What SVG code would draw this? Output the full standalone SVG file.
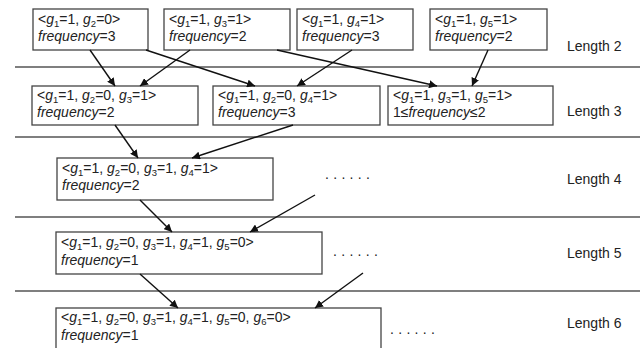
<svg xmlns="http://www.w3.org/2000/svg" width="640" height="348" viewBox="0 0 640 348">
<defs>
<marker id="ah" viewBox="0 0 10 10" refX="10" refY="5" markerWidth="8" markerHeight="8" markerUnits="userSpaceOnUse" orient="auto">
<path d="M0,0 L10,5 L0,10 z" fill="#111"/>
</marker>
</defs>
<style>
.box{fill:#fff;stroke:#444;stroke-width:1.3}
.sep{stroke:#555;stroke-width:1.3}
.t{font-family:"Liberation Sans",Arial,sans-serif;font-size:14px;fill:#222}
.lab{font-family:"Liberation Sans",Arial,sans-serif;font-size:14px;fill:#222}
.i{font-style:italic}
.s{font-size:9.5px}
.dots{font-family:"Liberation Sans",Arial,sans-serif;font-size:14px;fill:#222;letter-spacing:4.3px}
.c{stroke:#111;stroke-width:1.4;fill:none;marker-end:url(#ah)}
</style>
<g id="separators">
<line class="sep" x1="15" y1="67" x2="640" y2="67"/>
<line class="sep" x1="15" y1="137" x2="640" y2="137"/>
<line class="sep" x1="15" y1="217" x2="640" y2="217"/>
<line class="sep" x1="15" y1="291" x2="640" y2="291"/>
</g>
<g id="labels">
<text class="lab" x="567" y="51">Length 2</text>
<text class="lab" x="567" y="116">Length 3</text>
<text class="lab" x="567" y="184">Length 4</text>
<text class="lab" x="567" y="258">Length 5</text>
<text class="lab" x="567" y="328">Length 6</text>
</g>
<g id="n1">
<rect class="box" x="33" y="9" width="115" height="41"/>
<text class="t" x="38" y="24">&lt;<tspan class="i">g</tspan><tspan class="s" dy="3">1</tspan><tspan dy="-3">=1, </tspan><tspan class="i">g</tspan><tspan class="s" dy="3">2</tspan><tspan dy="-3">=0&gt;</tspan></text>
<text class="t" x="38" y="41"><tspan class="i">frequency</tspan>=3</text>
</g>
<g id="n2">
<rect class="box" x="164" y="9" width="126" height="41"/>
<text class="t" x="169" y="24">&lt;<tspan class="i">g</tspan><tspan class="s" dy="3">1</tspan><tspan dy="-3">=1, </tspan><tspan class="i">g</tspan><tspan class="s" dy="3">3</tspan><tspan dy="-3">=1&gt;</tspan></text>
<text class="t" x="169" y="41"><tspan class="i">frequency</tspan>=2</text>
</g>
<g id="n3">
<rect class="box" x="297" y="9" width="116" height="41"/>
<text class="t" x="302" y="24">&lt;<tspan class="i">g</tspan><tspan class="s" dy="3">1</tspan><tspan dy="-3">=1, </tspan><tspan class="i">g</tspan><tspan class="s" dy="3">4</tspan><tspan dy="-3">=1&gt;</tspan></text>
<text class="t" x="302" y="41"><tspan class="i">frequency</tspan>=3</text>
</g>
<g id="n4">
<rect class="box" x="430" y="9" width="117" height="41"/>
<text class="t" x="435" y="24">&lt;<tspan class="i">g</tspan><tspan class="s" dy="3">1</tspan><tspan dy="-3">=1, </tspan><tspan class="i">g</tspan><tspan class="s" dy="3">5</tspan><tspan dy="-3">=1&gt;</tspan></text>
<text class="t" x="435" y="41"><tspan class="i">frequency</tspan>=2</text>
</g>
<g id="n5">
<rect class="box" x="32" y="86" width="166" height="39"/>
<text class="t" x="37" y="100">&lt;<tspan class="i">g</tspan><tspan class="s" dy="3">1</tspan><tspan dy="-3">=1, </tspan><tspan class="i">g</tspan><tspan class="s" dy="3">2</tspan><tspan dy="-3">=0, </tspan><tspan class="i">g</tspan><tspan class="s" dy="3">3</tspan><tspan dy="-3">=1&gt;</tspan></text>
<text class="t" x="37" y="117"><tspan class="i">frequency</tspan>=2</text>
</g>
<g id="n6">
<rect class="box" x="213" y="86" width="167" height="39"/>
<text class="t" x="218" y="100">&lt;<tspan class="i">g</tspan><tspan class="s" dy="3">1</tspan><tspan dy="-3">=1, </tspan><tspan class="i">g</tspan><tspan class="s" dy="3">2</tspan><tspan dy="-3">=0, </tspan><tspan class="i">g</tspan><tspan class="s" dy="3">4</tspan><tspan dy="-3">=1&gt;</tspan></text>
<text class="t" x="218" y="117"><tspan class="i">frequency</tspan>=3</text>
</g>
<g id="n7">
<rect class="box" x="388" y="86" width="165" height="39"/>
<text class="t" x="393" y="100">&lt;<tspan class="i">g</tspan><tspan class="s" dy="3">1</tspan><tspan dy="-3">=1, </tspan><tspan class="i">g</tspan><tspan class="s" dy="3">3</tspan><tspan dy="-3">=1, </tspan><tspan class="i">g</tspan><tspan class="s" dy="3">5</tspan><tspan dy="-3">=1&gt;</tspan></text>
<text class="t" x="393" y="117">1≤<tspan class="i">frequency</tspan>≤2</text>
</g>
<g id="n8">
<rect class="box" x="57" y="158" width="216" height="42"/>
<text class="t" x="62" y="173">&lt;<tspan class="i">g</tspan><tspan class="s" dy="3">1</tspan><tspan dy="-3">=1, </tspan><tspan class="i">g</tspan><tspan class="s" dy="3">2</tspan><tspan dy="-3">=0, </tspan><tspan class="i">g</tspan><tspan class="s" dy="3">3</tspan><tspan dy="-3">=1, </tspan><tspan class="i">g</tspan><tspan class="s" dy="3">4</tspan><tspan dy="-3">=1&gt;</tspan></text>
<text class="t" x="62" y="190"><tspan class="i">frequency</tspan>=2</text>
</g>
<g id="n9">
<rect class="box" x="56" y="232" width="266" height="42"/>
<text class="t" x="61" y="246.5">&lt;<tspan class="i">g</tspan><tspan class="s" dy="3">1</tspan><tspan dy="-3">=1, </tspan><tspan class="i">g</tspan><tspan class="s" dy="3">2</tspan><tspan dy="-3">=0, </tspan><tspan class="i">g</tspan><tspan class="s" dy="3">3</tspan><tspan dy="-3">=1, </tspan><tspan class="i">g</tspan><tspan class="s" dy="3">4</tspan><tspan dy="-3">=1, </tspan><tspan class="i">g</tspan><tspan class="s" dy="3">5</tspan><tspan dy="-3">=0&gt;</tspan></text>
<text class="t" x="61" y="264.5"><tspan class="i">frequency</tspan>=1</text>
</g>
<g id="n10">
<rect class="box" x="56" y="308" width="325" height="50"/>
<text class="t" x="61" y="322">&lt;<tspan class="i">g</tspan><tspan class="s" dy="3">1</tspan><tspan dy="-3">=1, </tspan><tspan class="i">g</tspan><tspan class="s" dy="3">2</tspan><tspan dy="-3">=0, </tspan><tspan class="i">g</tspan><tspan class="s" dy="3">3</tspan><tspan dy="-3">=1, </tspan><tspan class="i">g</tspan><tspan class="s" dy="3">4</tspan><tspan dy="-3">=1, </tspan><tspan class="i">g</tspan><tspan class="s" dy="3">5</tspan><tspan dy="-3">=0, </tspan><tspan class="i">g</tspan><tspan class="s" dy="3">6</tspan><tspan dy="-3">=0&gt;</tspan></text>
<text class="t" x="61" y="340"><tspan class="i">frequency</tspan>=1</text>
</g>
<g id="ellipses">
<text class="dots" x="325" y="179">......</text>
<text class="dots" x="333" y="256">......</text>
<text class="dots" x="390" y="334">......</text>
</g>
<g id="connectors">
<line class="c" x1="90" y1="50" x2="115" y2="86"/>
<line class="c" x1="190" y1="50" x2="140" y2="86"/>
<line class="c" x1="146" y1="50" x2="255" y2="86"/>
<line class="c" x1="277" y1="50" x2="437" y2="86"/>
<line class="c" x1="352" y1="50" x2="297" y2="86"/>
<line class="c" x1="488" y1="50" x2="472" y2="86"/>
<line class="c" x1="115" y1="125" x2="138" y2="158"/>
<line class="c" x1="293" y1="125" x2="192" y2="158"/>
<line class="c" x1="140" y1="200" x2="172" y2="232"/>
<line class="c" x1="315" y1="195" x2="250" y2="232"/>
<line class="c" x1="140" y1="274" x2="178" y2="308"/>
<line class="c" x1="363" y1="273" x2="315" y2="308"/>
</g>
</svg>
